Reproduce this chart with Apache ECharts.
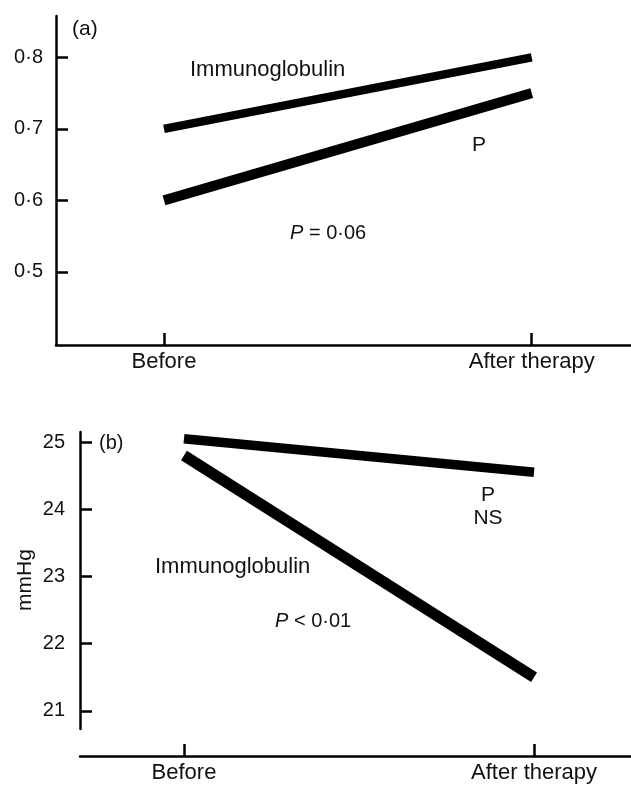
<!DOCTYPE html>
<html>
<head>
<meta charset="utf-8">
<title>Before / after therapy</title>
<script src="https://cdn.jsdelivr.net/npm/echarts@6/dist/echarts.min.js"></script>
<style>
  html, body { margin: 0; padding: 0; background: #fff; }
  #container { width: 631px; height: 785px; }
</style>
</head>
<body>
<div id="container"></div>
<script>
var phases = ['Before', 'After therapy'];
var phasePos = [0, 1];

// panel (a)
var ticksA = [0.5, 0.6, 0.7, 0.8];
var immunoA = [0.70, 0.80];
var placeboA = [0.60, 0.75];

// panel (b), mmHg
var ticksB = [21, 22, 23, 24, 25];
var placeboB = [25.05, 24.55];
var immunoB = [24.8, 21.5];

var FONT = "'Liberation Sans', Arial, sans-serif";
var INK = '#111';

function pairs(vals) {
  return vals.map(function (v, i) { return [phasePos[i], v]; });
}
function dot(v) { return String(v).replace('.', '\u00b7'); }
function phaseName(v) { return phases[phasePos.indexOf(v)]; }

function yAxisOf(grid, min, max, ticks, fmt, margin) {
  return {
    gridIndex: grid, type: 'value', min: min, max: max,
    axisLine: { show: true, onZero: false, lineStyle: { color: '#000', width: 2.5 } },
    axisTick: { show: true, inside: true, length: 12, customValues: ticks,
                lineStyle: { color: '#000', width: 2.5 } },
    axisLabel: { customValues: ticks, formatter: fmt, margin: margin,
                 fontSize: 20, color: INK, fontFamily: FONT },
    splitLine: { show: false }
  };
}
function xAxisOf(grid, min, max, offset) {
  return {
    gridIndex: grid, type: 'value', min: min, max: max, offset: offset,
    axisLine: { show: true, onZero: false, lineStyle: { color: '#000', width: 2.5 } },
    axisTick: { show: true, inside: true, length: 12, customValues: phasePos,
                lineStyle: { color: '#000', width: 2.5 } },
    axisLabel: { customValues: phasePos, formatter: phaseName, margin: 6,
                 fontSize: 22, color: INK, fontFamily: FONT },
    splitLine: { show: false }
  };
}
function line(name, xi, data, w) {
  return {
    name: name, type: 'line', xAxisIndex: xi, yAxisIndex: xi,
    data: pairs(data), symbol: 'none', silent: true,
    lineStyle: { color: '#000', width: w, cap: 'butt' }
  };
}
function label(x, y, text, size, align, rot) {
  return {
    type: 'text', x: x, y: y, rotation: rot || 0, silent: true,
    style: { text: text, fontSize: size, fontFamily: FONT, fill: INK,
             align: align || 'left', verticalAlign: 'middle',
             rich: { i: { fontStyle: 'italic', fontSize: size, fontFamily: FONT, fill: INK } } }
  };
}

var myChart = echarts.init(document.getElementById('container'));
var option = {
  animation: false,
  backgroundColor: '#fff',
  grid: [
    { left: 56, right: 0, top: 16, bottom: 440 },
    { left: 80, right: 0, top: 432, bottom: 56 }
  ],
  xAxis: [
    xAxisOf(0, -0.2937, 1.27, 0),
    xAxisOf(1, -0.297, 1.277, 27)
  ],
  yAxis: [
    yAxisOf(0, 0.3975, 0.858, ticksA, dot, 13),
    yAxisOf(1, 20.73, 25.15, ticksB, function (v) { return String(v); }, 15)
  ],
  series: [
    line('Immunoglobulin', 0, immunoA, 8.5),
    line('P', 0, placeboA, 10),
    line('P', 1, placeboB, 9.5),
    line('Immunoglobulin', 1, immunoB, 11)
  ],
  graphic: [
    label(72, 29, '(a)', 21),
    label(190, 70, 'Immunoglobulin', 22),
    label(472, 145, 'P', 21),
    label(290, 233, '{i|P} = 0\u00b706', 20),
    label(99, 443, '(b)', 20),
    label(488, 495, 'P', 21, 'center'),
    label(488, 518, 'NS', 21, 'center'),
    label(155, 567, 'Immunoglobulin', 22),
    label(275, 621, '{i|P} < 0\u00b701', 20),
    label(25, 580, 'mmHg', 21, 'center', Math.PI / 2)
  ]
};
myChart.setOption(option);
</script>
</body>
</html>
